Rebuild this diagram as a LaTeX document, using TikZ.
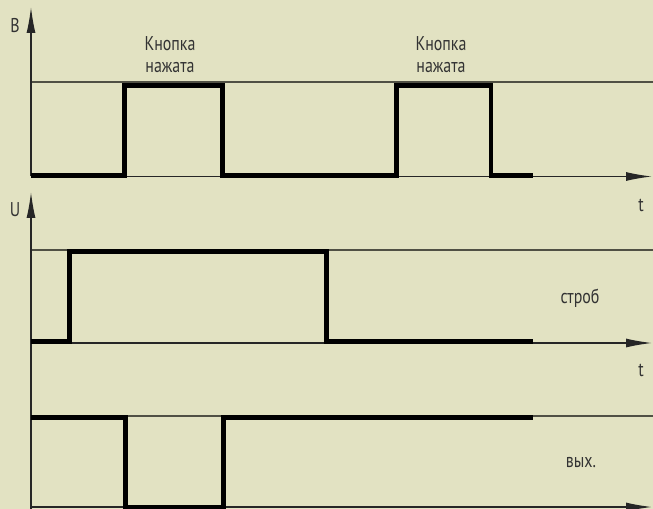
\documentclass[tikz,border=0pt]{standalone}
\usepackage{fontspec}
\setmainfont{PT Sans}[FakeStretch=0.8]
\usetikzlibrary{arrows.meta}
\definecolor{hintergrund}{RGB}{226,226,194}
\definecolor{pegelgrau}{RGB}{80,80,68}

\begin{document}
\begin{tikzpicture}[x=1bp, y=-1bp,
				>={Latex[length=26bp,width=9bp]},   %Pfeilspitzen
				signal/.style={line width=4.6bp, line join=miter, black},
				pegel/.style={line width=1.8bp, pegelgrau},
				achse/.style={->, line width=1.3bp, black!85},
				beschr/.style={font=\fontsize{20}{24}\selectfont, text=black!80, inner sep=0pt}]
				%Hintergrund
				\fill[hintergrund] (0,0) rectangle (653,509);
				\useasboundingbox (0,0) rectangle (653,509);
				\clip (0,0) rectangle (653,509);
				% Ursprünge
				\coordinate (B0) at (31,176.5);
				\coordinate (S0) at (31,343);
				\coordinate (A0) at (31,507);
				% Pegellinien
				\foreach \y in {82,250,416} \draw[pegel] (31,\y) -- (653,\y);
				% Achsen zeichnen
				\draw[achse] (B0) -- (31,7) coordinate (Btop);
				\draw[achse] (A0) ++(0,5) -- (31,192) coordinate (Utop);
				\draw[achse] (B0) -- (652,176.5);
				\draw[achse] (S0) -- (652,343);
				\draw[achse] (A0) -- (652,507);
				% Signale
				\draw[signal] (31,175.5) -- (124.5,175.5) -- (124.5,85.5) -- (222.5,85.5) -- (222.5,175.5)
					-- (396.5,175.5) -- (396.5,85.5) -- (491,85.5) -- (491,175.5) -- (533,175.5);
				\draw[signal] (31,341.5) -- (69.5,341.5) -- (69.5,251.5) -- (326.5,251.5) -- (326.5,341.5) -- (533,341.5);
				\draw[signal] (31,417.5) -- (125.5,417.5) -- (125.5,507) -- (223.5,507) -- (223.5,417.5) -- (533,417.5);
				% Beschriftung
				\node[beschr] (lblB) at (15,26) {B};
				\node[beschr] (lblU) at (15,210) {U};
				\node[beschr] (lblt1) at (641,205) {t};
				\node[beschr] (lblt2) at (641,370) {t};
				\node[beschr] (knopf1a) at (170,44) {Кнопка};
				\node[beschr] (knopf1b) at (170,68) {нажата};
				\node[beschr] (knopf2a) at (441,44) {Кнопка};
				\node[beschr] (knopf2b) at (441,68) {нажата};
				\node[beschr] (strob) at (580,298) {строб};
				\node[beschr] (vyh) at (581,463) {вых.};
			\end{tikzpicture}
\end{document}
